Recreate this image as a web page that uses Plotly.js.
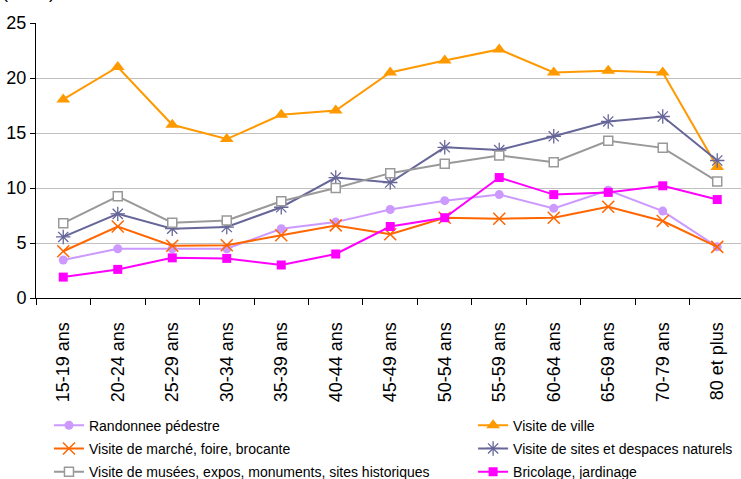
<!DOCTYPE html>
<html>
<head>
<meta charset="utf-8">
<script src="https://cdn.plot.ly/plotly-3.0.1.min.js"></script>
<style>
html, body { margin: 0; padding: 0; background: #ffffff; overflow: hidden; }
#chart { width: 741px; height: 479px; }
</style>
</head>
<body>
<div id="chart"></div>
<script>
// Categories (age groups)
var categories = ["15-19 ans", "20-24 ans", "25-29 ans", "30-34 ans", "35-39 ans", "40-44 ans",
  "45-49 ans", "50-54 ans", "55-59 ans", "60-64 ans", "65-69 ans", "70-79 ans", "80 et plus"];

// Series values (en %)
var randonnee = [3.45, 4.48, 4.48, 4.48, 6.3, 6.9, 8.05, 8.85, 9.4, 8.15, 9.8, 7.9, 4.65];
var visiteVille = [18.05, 21.0, 15.75, 14.45, 16.65, 17.05, 20.5, 21.6, 22.6, 20.5, 20.65, 20.5, 11.9];
var marche = [4.25, 6.5, 4.75, 4.8, 5.7, 6.6, 5.8, 7.3, 7.2, 7.3, 8.3, 7.0, 4.65];
var sitesNaturels = [5.55, 7.65, 6.3, 6.45, 8.25, 10.95, 10.5, 13.7, 13.45, 14.7, 16.05, 16.5, 12.5];
var musees = [6.8, 9.25, 6.85, 7.05, 8.8, 10.0, 11.35, 12.2, 12.95, 12.35, 14.3, 13.65, 10.6];
var bricolage = [1.9, 2.6, 3.65, 3.6, 3.0, 4.0, 6.5, 7.3, 10.95, 9.4, 9.6, 10.2, 8.95];

// Series names
var names = ["Randonnee pédestre", "Visite de ville", "Visite de marché, foire, brocante",
  "Visite de sites et despaces naturels", "Visite de musées, expos, monuments, sites historiques",
  "Bricolage, jardinage"];

var yTicks = [0, 5, 10, 15, 20, 25];

var traces = [
  {x: categories, y: randonnee, name: names[0], legend: "legend", legendgroup: "g1",
   line: {color: "#CC99FF", width: 2},
   marker: {symbol: "circle", size: 9, color: "#CC99FF"}},
  {x: categories, y: visiteVille, name: names[1], legend: "legend2", legendgroup: "g2",
   line: {color: "#FF9900", width: 2},
   marker: {symbol: "triangle-up", size: 12, color: "#FF9900"}},
  {x: categories, y: marche, name: names[2], legend: "legend", legendgroup: "g3",
   line: {color: "#FF6600", width: 2},
   marker: {symbol: "x-thin-open", size: 12, color: "#FF6600", line: {color: "#FF6600", width: 1.5}}},
  {x: categories, y: sitesNaturels, name: names[3], legend: "legend2", legendgroup: "g4",
   line: {color: "#666699", width: 2},
   marker: {symbol: "asterisk-open", size: 12, color: "#666699", line: {color: "#666699", width: 1.3}}},
  {x: categories, y: musees, name: names[4], legend: "legend", legendgroup: "g5",
   line: {color: "#999999", width: 2},
   marker: {symbol: "square", size: 9, color: "#FFFFFF", line: {color: "#999999", width: 1.5}}},
  {x: categories, y: bricolage, name: names[5], legend: "legend2", legendgroup: "g6",
   line: {color: "#FF00FF", width: 2},
   marker: {symbol: "square", size: 9, color: "#FF00FF"}}
];
traces.forEach(function (t) { t.type = "scatter"; t.mode = "lines+markers"; t.hoverinfo = "skip"; });

var legendFont = {family: "Liberation Sans, Arial, sans-serif", size: 14, color: "#000000"};

var layout = {
  width: 741, height: 479,
  margin: {l: 36, r: 0, t: 23, b: 181, pad: 0, autoexpand: false},
  paper_bgcolor: "#FFFFFF", plot_bgcolor: "#FFFFFF",
  font: {family: "Liberation Sans, Arial, sans-serif", color: "#000000", size: 18},
  showlegend: true,
  xaxis: {
    type: "category", range: [-0.5, 12.436], automargin: false,
    showgrid: false, zeroline: false,
    showline: true, linecolor: "#000000", linewidth: 1,
    ticks: "outside", tickson: "boundaries", ticklen: 6, tickcolor: "#000000", tickwidth: 1,
    tickangle: -90, tickfont: {size: 18, family: "Liberation Sans, Arial, sans-serif"},
    ticklabelstandoff: 16
  },
  yaxis: {
    range: [0, 25], tickvals: yTicks, ticktext: yTicks.map(String), automargin: false,
    showgrid: true, gridcolor: "#C0C0C0", gridwidth: 1, zeroline: false,
    showline: true, linecolor: "#000000", linewidth: 1,
    ticks: "outside", ticklen: 5, tickcolor: "#000000", tickwidth: 1,
    tickfont: {size: 18, family: "Liberation Sans, Arial, sans-serif"}
  },
  legend: {
    x: 0.0184, xanchor: "left", y: -0.406, yanchor: "top", yref: "paper",
    orientation: "v", traceorder: "grouped", tracegroupgap: 2,
    bgcolor: "rgba(0,0,0,0)", borderwidth: 0,
    font: legendFont, itemclick: false, itemdoubleclick: false
  },
  legend2: {
    x: 0.62, xanchor: "left", y: -0.406, yanchor: "top", yref: "paper",
    orientation: "v", traceorder: "grouped", tracegroupgap: 2,
    bgcolor: "rgba(0,0,0,0)", borderwidth: 0,
    font: legendFont, itemclick: false, itemdoubleclick: false
  },
  annotations: [{
    text: "(en %)", xref: "paper", yref: "paper",
    x: -0.051, xanchor: "left", y: 1.068, yanchor: "bottom",
    showarrow: false, font: {size: 18, family: "Liberation Sans, Arial, sans-serif"}
  }]
};

Plotly.newPlot("chart", traces, layout, {displayModeBar: false, staticPlot: true});
</script>
</body>
</html>
